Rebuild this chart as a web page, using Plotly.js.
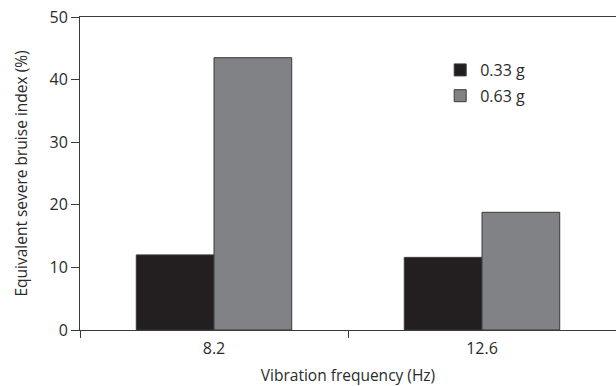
<!DOCTYPE html>
<html>
<head>
<meta charset="utf-8">
<script src="https://cdn.plot.ly/plotly-3.0.1.min.js"></script>
<style>html,body{margin:0;padding:0;background:#fff;}#chart{width:616px;height:386px;}</style>
</head>
<body>
<div id="chart"></div>
<script>
const categories = ["8.2", "12.6"];
const seriesNames = ["0.33 g", "0.63 g"];
const values033 = [12.0, 11.6];
const values063 = [43.5, 18.8];
const yTicks = [0, 10, 20, 30, 40, 50];

const FONT = "Open Sans, Lato, sans-serif";
const TXT = "#2b2b2b";
const traces = [
  {type: "bar", name: seriesNames[0], x: categories, y: values033, legendgroup: "a",
   marker: {color: "#231f20", line: {color: "#3a3a3a", width: 1}}},
  {type: "bar", name: seriesNames[1], x: categories, y: values063, legendgroup: "b",
   marker: {color: "#808285", line: {color: "#3a3a3a", width: 1}}}
];
const layout = {
  width: 616, height: 386,
  margin: {l: 80, r: 0, t: 17, b: 56},
  paper_bgcolor: "#fff", plot_bgcolor: "#fff",
  barmode: "group", bargap: 0.42, bargroupgap: 0,
  font: {family: FONT, size: 16, color: TXT},
  showlegend: true,
  legend: {x: 0.672, y: 0.885, xanchor: "left", yanchor: "top", bgcolor: "rgba(0,0,0,0)",
           font: {family: FONT, size: 16, color: TXT}, tracegroupgap: 2},
  xaxis: {type: "category", range: [-0.5, 1.5], showline: true, linecolor: "#3a3a3a", linewidth: 1,
          mirror: true, showgrid: false, zeroline: false,
          ticks: "outside", tickson: "boundaries", ticklen: 7, tickcolor: "#3a3a3a",
          ticklabelstandoff: 4,
          tickfont: {family: FONT, size: 16, color: TXT},
          title: {text: "Vibration frequency (Hz)", standoff: 12, font: {family: FONT, size: 15.5, color: TXT}}},
  yaxis: {range: [0, 50], tickvals: yTicks, showline: true, linecolor: "#3a3a3a", linewidth: 1,
          showgrid: false, zeroline: false, ticks: "outside", ticklen: 8, tickcolor: "#3a3a3a",
          tickfont: {family: FONT, size: 16, color: TXT},
          title: {text: "Equivalent severe bruise index (%)", standoff: 18, font: {family: FONT, size: 15.5, color: TXT}}}
};
Plotly.newPlot("chart", traces, layout, {displayModeBar: false, staticPlot: true});
</script>
</body>
</html>
